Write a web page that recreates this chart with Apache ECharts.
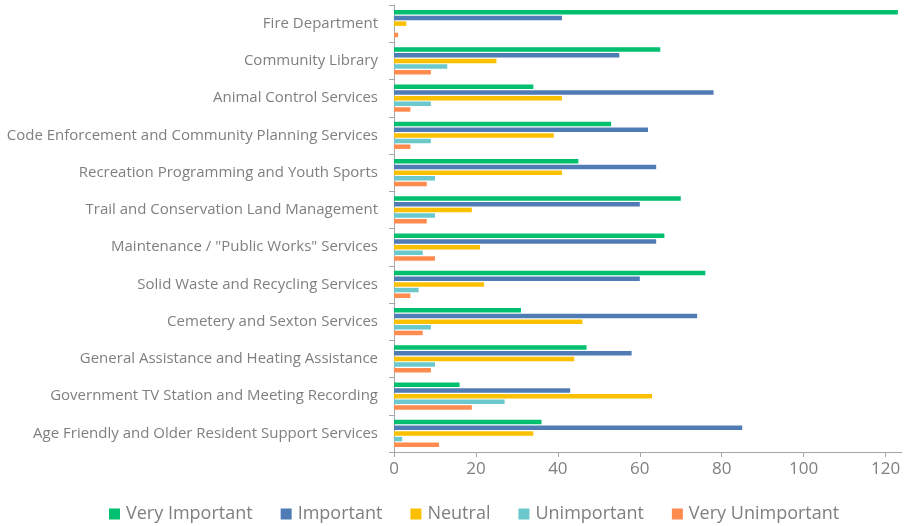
<!DOCTYPE html>
<html><head><meta charset="utf-8">
<script src="https://cdn.jsdelivr.net/npm/echarts@6/dist/echarts.min.js"></script>
<style>html,body{margin:0;padding:0;background:#fff}#c{width:913px;height:526px}</style>
</head><body><div id="c"></div>
<script>
const categories = ["Fire Department","Community Library","Animal Control Services","Code Enforcement and Community Planning Services","Recreation Programming and Youth Sports","Trail and Conservation Land Management","Maintenance / \"Public Works\" Services","Solid Waste and Recycling Services","Cemetery and Sexton Services","General Assistance and Heating Assistance","Government TV Station and Meeting Recording","Age Friendly and Older Resident Support Services"];
const seriesNames = ["Very Important","Important","Neutral","Unimportant","Very Unimportant"];
const veryImportant = [123,65,34,53,45,70,66,76,31,47,16,36];
const important = [41,55,78,62,64,60,64,60,74,58,43,85];
const neutral = [3,25,41,39,41,19,21,22,46,44,63,34];
const unimportant = [0,13,9,9,10,10,7,6,9,10,27,2];
const veryUnimportant = [1,9,4,4,8,8,10,4,7,9,19,11];
const colors = ["#00bf6f","#507cb6","#fbc000","#6bc8cd","#ff8b4f"];
const allData = [veryImportant, important, neutral, unimportant, veryUnimportant];
const chart = echarts.init(document.getElementById('c'));
chart.setOption({
  animation:false,
  color:colors,
  grid:{left:394,right:11,top:5,bottom:74,containLabel:false},
  legend:{top:500,left:104,itemWidth:11,itemHeight:11,itemGap:28,icon:'rect',
    textStyle:{fontFamily:'Open Sans',fontSize:18,color:'#7f7f7f',padding:[0,0,0,1]}},
  xAxis:{type:'value',min:0,max:124,interval:20,
    axisLine:{show:true,lineStyle:{color:'#a6a6a6',width:1}},
    axisTick:{show:true,length:5,lineStyle:{color:'#a6a6a6'}},
    splitLine:{show:false},
    axisLabel:{showMaxLabel:false,fontFamily:'Open Sans',fontSize:17,color:'#7f7f7f',margin:9}},
  yAxis:{type:'category',data:categories,inverse:true,
    axisLine:{show:true,lineStyle:{color:'#a6a6a6',width:1}},
    axisTick:{show:true,length:5,lineStyle:{color:'#a6a6a6'}},
    axisLabel:{fontFamily:'Open Sans',fontSize:15,color:'#7f7f7f',margin:16}},
  series: seriesNames.map((n,i)=>({name:n,type:'bar',data:allData[i],barWidth:4.5,barGap:'26%',
    itemStyle:{color:colors[i]}}))
});
</script></body></html>
